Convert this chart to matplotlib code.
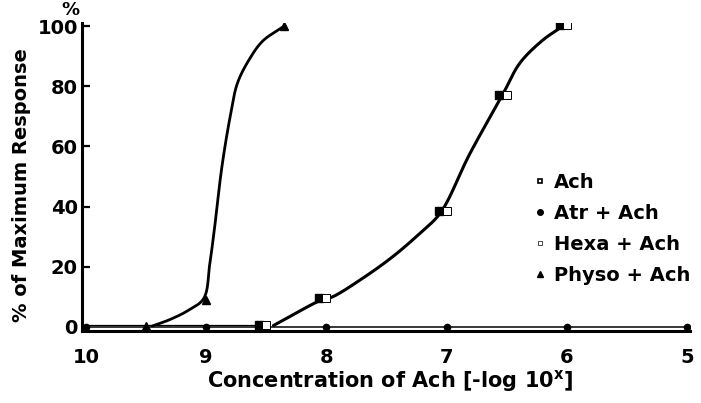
import numpy as np
import matplotlib
matplotlib.use("Agg")
import matplotlib.pyplot as plt
from matplotlib.lines import Line2D

# --- data (x = -log10 concentration, y = % of max) ---
conc_ach = [8.5, 8.0, 7.0, 6.5, 6.0]
resp_ach = [0.5, 9.5, 38.5, 77.0, 100.5]
resp_hexa = [0.5, 9.5, 38.5, 77.0, 100.5]

conc_atr = [10, 9, 8, 7, 6, 5]
resp_atr = [0, 0, 0, 0, 0, 0]

conc_physo = [9.5, 9.0, 8.35]
resp_physo = [0.3, 9.0, 100.0]

# hand-drawn curves
ach_curve_x = [8.44, 8.04, 7.95, 7.72, 7.45, 7.22, 7.05, 6.81, 6.53, 6.39, 6.20, 6.05]
ach_curve_y = [0.5, 9, 10, 15.6, 23.3, 31.2, 38, 57.3, 77.5, 87.7, 95.3, 99.5]

physo_curve_x = [9.45, 9.3, 9.15, 9.02, 8.97, 8.93, 8.87, 8.80, 8.74, 8.64, 8.53, 8.37]
physo_curve_y = [0.3, 2.5, 5.5, 9.5, 21, 33, 53, 70, 81, 89, 95, 99.5]

x_ticks = [10, 9, 8, 7, 6, 5]
y_ticks = [0, 20, 40, 60, 80, 100]
legend_labels = ['Ach', 'Atr + Ach', 'Hexa + Ach', 'Physo + Ach']


def smooth(xs, ys, n=24, sx=120.0, sy=3.0):
    # centripetal Catmull-Rom through the traced points (in screen-like units)
    p = np.column_stack([np.array(xs) * sx, np.array(ys) * sy]).astype(float)
    p = np.vstack([2 * p[0] - p[1], p, 2 * p[-1] - p[-2]])
    out = []
    for i in range(1, len(p) - 2):
        p0, p1, p2, p3 = p[i - 1], p[i], p[i + 1], p[i + 2]
        t0 = 0.0
        t1 = t0 + np.linalg.norm(p1 - p0) ** 0.5
        t2 = t1 + np.linalg.norm(p2 - p1) ** 0.5
        t3 = t2 + np.linalg.norm(p3 - p2) ** 0.5
        t = np.linspace(t1, t2, n, endpoint=False)[:, None]
        a1 = (t1 - t) / (t1 - t0) * p0 + (t - t0) / (t1 - t0) * p1
        a2 = (t2 - t) / (t2 - t1) * p1 + (t - t1) / (t2 - t1) * p2
        a3 = (t3 - t) / (t3 - t2) * p2 + (t - t2) / (t3 - t2) * p3
        b1 = (t2 - t) / (t2 - t0) * a1 + (t - t0) / (t2 - t0) * a2
        b2 = (t3 - t) / (t3 - t1) * a2 + (t - t1) / (t3 - t1) * a3
        out.append((t2 - t) / (t2 - t1) * b1 + (t - t1) / (t2 - t1) * b2)
    out.append(p[-2][None, :])
    out = np.vstack(out)
    return out[:, 0] / sx, out[:, 1] / sy


plt.rcParams['font.family'] = 'DejaVu Sans'
plt.rcParams['font.weight'] = 'bold'

fig = plt.figure(figsize=(7.01, 4.03), dpi=100)
ax = fig.add_axes([82 / 701, 72 / 403, 608 / 701, 308 / 403])

# baseline (atropine) line and its dots
ax.plot(conc_atr, resp_atr, color='k', lw=1.1, marker='o', ms=4.5, zorder=3)
ax.plot([10, 8.5], [0.6, 0.6], color='k', lw=0.9)

# curves
cx, cy = smooth(ach_curve_x, ach_curve_y)
ax.plot(cx, cy, color='k', lw=2.2, solid_capstyle='round')
px, py = smooth(physo_curve_x, physo_curve_y)
ax.plot(px, py, color='k', lw=2.0, solid_capstyle='round')

# markers
dodge = 0.06
ax.plot(np.array(conc_ach) + dodge, resp_ach, ls='none', marker='s', ms=5.5,
        mfc='k', mec='k', zorder=4)
ax.plot(conc_ach, resp_hexa, ls='none', marker='s', ms=5.5,
        mfc='white', mec='k', mew=0.7, zorder=4)
ax.plot(conc_physo, resp_physo, ls='none', marker='^', ms=5.5,
        mfc='k', mec='k', zorder=4)

ax.set_xlim(10.033, 4.975)
ax.set_ylim(-1.33, 101)
ax.set_xticks(x_ticks)
ax.set_yticks(y_ticks)
ax.tick_params(axis='x', length=0, pad=12, labelsize=14)
ax.tick_params(axis='y', direction='in', length=6, width=1.6, pad=3, labelsize=14)
for s in ['top', 'right']:
    ax.spines[s].set_visible(False)
for s in ['left', 'bottom']:
    ax.spines[s].set_linewidth(2.2)

fig.text(22 / 701, 1 - 185 / 403, '% of Maximum Response', rotation=90,
         ha='center', va='center', fontsize=14)
fig.text(70 / 701, 1 - 10 / 403, '%', ha='center', va='center', fontsize=13)
fig.text(390 / 701, 1 - 381 / 403, 'Concentration of Ach [-log 10$^\\mathregular{x}$]',
         ha='center', va='center', fontsize=15)

handles = [
    Line2D([], [], ls='none', marker='s', ms=3.5, mfc='white', mec='k', mew=1.2),
    Line2D([], [], ls='none', marker='o', ms=4, mfc='k', mec='k'),
    Line2D([], [], ls='none', marker='s', ms=3.5, mfc='white', mec='k', mew=0.5),
    Line2D([], [], ls='none', marker='^', ms=4, mfc='k', mec='k'),
]
ax.legend(handles, legend_labels, loc='upper left', bbox_to_anchor=(526 / 701, 1 - 165 / 403),
          bbox_transform=fig.transFigure, frameon=False, fontsize=14,
          handlelength=0.6, handletextpad=0.45, labelspacing=0.62, borderaxespad=0)

fig.savefig('out.png', dpi=100)
